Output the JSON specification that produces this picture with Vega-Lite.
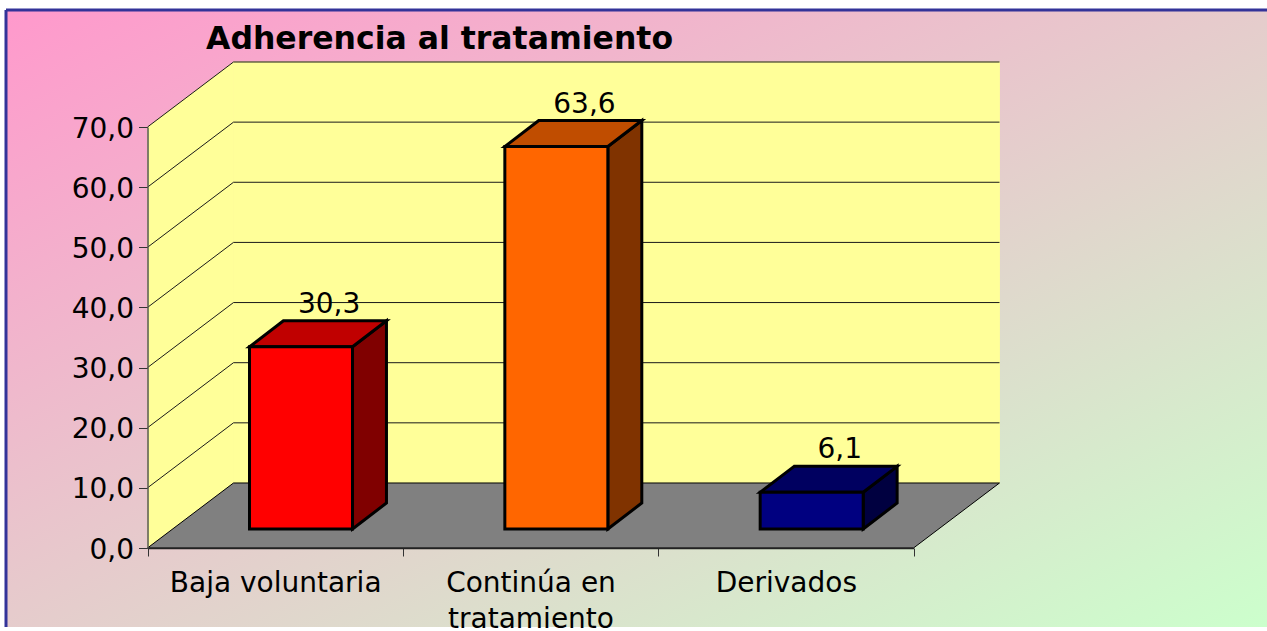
{
"$schema":"https://vega.github.io/schema/vega-lite/v6.json",
"width":1261,"height":617,
"autosize":"none",
"padding":{"left":6,"top":10,"right":0,"bottom":4},
"background":"white",
"config":{"font":"DejaVu Sans","view":{"fill":{"gradient":"linear","x1":0,"y1":0,"x2":1,"y2":1,"stops":[{"offset":0,"color":"#FF99CC"},{"offset":1,"color":"#CCFFCC"}]},"stroke":"#333399","strokeWidth":3,"strokeDash":[1261,1878,617,0]}},
"title":{"text":"Adherencia al tratamiento","anchor":"start","frame":"group","dx":200,"offset":-45,"font":"DejaVu Sans","fontSize":31.5,"fontWeight":"bold","color":"black"},
"datasets":{
"bars":[{"category":"Baja voluntaria","value":30.3},{"category":"Continúa en tratamiento","value":63.6},{"category":"Derivados","value":6.1}],
"ticks":[{"tick":10},{"tick":20},{"tick":30},{"tick":40},{"tick":50},{"tick":60},{"tick":70}],
"depth":[{"d":0},{"d":1}]
},
"resolve":{"scale":{"x":"independent","y":"independent","color":"independent"},"axis":{"x":"independent","y":"independent"}},
"layer":[
{"data":{"name":"depth"},"mark":{"type":"rect","fill":"#FFFF99","stroke":"#FFFF99","strokeWidth":0.5},
 "encoding":{"x":{"datum":0.3368,"type":"quantitative","scale":{"domain":[0,3],"range":[141.5,907.5]},"axis":null},"x2":{"datum":3.3368},
 "y":{"datum":10.81,"type":"quantitative","scale":{"domain":[0,70],"range":[538,117]},"axis":null},"y2":{"datum":80.81}}},
{"data":{"name":"depth"},"transform":[{"calculate":"datum.d*0.3368","as":"wx"},{"calculate":"datum.d*10.81","as":"wy"},{"calculate":"70+datum.d*10.81","as":"wy2"}],
 "mark":{"type":"area","orient":"vertical","fill":"#FFFF99","stroke":"#FFFF99","strokeWidth":0.5},
 "encoding":{"x":{"field":"wx","type":"quantitative","scale":{"domain":[0,3],"range":[141.5,907.5]},"axis":null},
 "y":{"field":"wy","type":"quantitative","scale":{"domain":[0,70],"range":[538,117]},"axis":null},"y2":{"field":"wy2"}}},
{"data":{"name":"ticks"},"transform":[{"calculate":"[0,0.3368,3.3368]","as":"gx"},{"calculate":"[datum.tick,datum.tick+10.81,datum.tick+10.81]","as":"gy"},{"flatten":["gx","gy"]}],
 "mark":{"type":"line","color":"#1a1a1a","strokeWidth":1},
 "encoding":{"x":{"field":"gx","type":"quantitative","scale":{"domain":[0,3],"range":[141.5,907.5]},"axis":null},
 "y":{"field":"gy","type":"quantitative","scale":{"domain":[0,70],"range":[538,117]},"axis":null},"detail":{"field":"tick"}}},
{"data":{"name":"depth"},"transform":[{"calculate":"datum.d*0.3368","as":"fx"},{"calculate":"3+datum.d*0.3368","as":"fx2"},{"calculate":"datum.d*10.81","as":"fy"}],
 "mark":{"type":"area","orient":"horizontal","fill":"#808080","stroke":"black","strokeWidth":1},
 "encoding":{"x":{"field":"fx","type":"quantitative","scale":{"domain":[0,3],"range":[141.5,907.5]},"axis":null},"x2":{"field":"fx2"},
 "y":{"field":"fy","type":"quantitative","scale":{"domain":[0,70],"range":[538,117]},"axis":null}}},
{"data":{"name":"bars"},"transform":[{"window":[{"op":"row_number","as":"n"}]},{"calculate":"[0,1]","as":"d"},{"flatten":["d"]},
 {"calculate":"datum.n-1+0.3995+0.4034+0.133*datum.d","as":"sx"},{"calculate":"3.16+4.32*datum.d","as":"sy"},{"calculate":"3.16+datum.value+4.32*datum.d","as":"sy2"}],
 "mark":{"type":"area","orient":"vertical","stroke":"black","strokeWidth":3},
 "encoding":{"x":{"field":"sx","type":"quantitative","scale":{"domain":[0,3],"range":[141.5,907.5]},"axis":null},
 "y":{"field":"sy","type":"quantitative","scale":{"domain":[0,70],"range":[538,117]},"axis":null},"y2":{"field":"sy2"},
 "color":{"field":"category","type":"nominal","legend":null,"scale":{"domain":["Baja voluntaria","Continúa en tratamiento","Derivados"],"range":["#800000","#803300","#000040"]}}}},
{"data":{"name":"bars"},"transform":[{"window":[{"op":"row_number","as":"n"}]},{"calculate":"[0,1]","as":"d"},{"flatten":["d"]},
 {"calculate":"datum.n-1+0.3995+0.133*datum.d","as":"tx"},{"calculate":"datum.n-1+0.3995+0.4034+0.133*datum.d","as":"tx2"},{"calculate":"3.16+datum.value+4.32*datum.d","as":"ty"}],
 "mark":{"type":"area","orient":"horizontal","stroke":"black","strokeWidth":3},
 "encoding":{"x":{"field":"tx","type":"quantitative","scale":{"domain":[0,3],"range":[141.5,907.5]},"axis":null},"x2":{"field":"tx2"},
 "y":{"field":"ty","type":"quantitative","scale":{"domain":[0,70],"range":[538,117]},"axis":null},
 "color":{"field":"category","type":"nominal","legend":null,"scale":{"domain":["Baja voluntaria","Continúa en tratamiento","Derivados"],"range":["#C00000","#C04D00","#000060"]}}}},
{"data":{"name":"bars"},"transform":[{"window":[{"op":"row_number","as":"n"}]},
 {"calculate":"datum.n-1+0.3995","as":"bx"},{"calculate":"datum.n-1+0.3995+0.4034","as":"bx2"},{"calculate":"3.16","as":"by"},{"calculate":"3.16+datum.value","as":"by2"}],
 "mark":{"type":"rect","stroke":"black","strokeWidth":3},
 "encoding":{"x":{"field":"bx","type":"quantitative","scale":{"domain":[0,3],"range":[141.5,907.5]},"axis":null},"x2":{"field":"bx2"},
 "y":{"field":"by","type":"quantitative","scale":{"domain":[0,70],"range":[538,117]},"axis":null},"y2":{"field":"by2"},
 "color":{"field":"category","type":"nominal","legend":null,"scale":{"domain":["Baja voluntaria","Continúa en tratamiento","Derivados"],"range":["#FF0000","#FF6600","#000080"]}}}},
{"data":{"name":"bars"},"transform":[{"window":[{"op":"row_number","as":"n"}]},
 {"calculate":"datum.n-1+0.3995+0.2017+0.11","as":"lx"},{"calculate":"3.16+datum.value+4.32","as":"ly"},{"calculate":"replace(format(datum.value,'.1f'),'.',',')","as":"txt"}],
 "mark":{"type":"text","fontSize":28,"baseline":"middle","align":"center","dy":-16,"color":"black"},
 "encoding":{"x":{"field":"lx","type":"quantitative","scale":{"domain":[0,3],"range":[141.5,907.5]},"axis":null},
 "y":{"field":"ly","type":"quantitative","scale":{"domain":[0,70],"range":[538,117]},"axis":null},"text":{"field":"txt"}}},
{"data":{"name":"bars"},"mark":{"type":"point","opacity":0},
 "encoding":{"x":{"field":"category","type":"nominal","sort":null,"scale":{"type":"band","paddingInner":0,"paddingOuter":0,"range":[141.5,907.5]},
   "axis":{"title":null,"orient":"bottom","offset":-79,"zindex":1,"labelAngle":0,"tickBand":"extent","tickSize":8,"tickColor":"#333333","domainColor":"#222222","domainWidth":1.5,"labelFontSize":28,"labelColor":"black","labelPadding":13,"labelLineHeight":36,"labelLimit":400,"labelExpr":"datum.label=='Continúa en tratamiento'?['Continúa en','tratamiento']:datum.label"}},
 "y":{"field":"value","type":"quantitative","scale":{"domain":[0,70],"range":[538,117]},
   "axis":{"title":null,"orient":"left","offset":-141.5,"zindex":1,"values":[0,10,20,30,40,50,60,70],"grid":false,"tickSize":9,"tickColor":"#333333","domainColor":"#555555","domainWidth":1.5,"labelFontSize":28,"labelColor":"black","labelPadding":5,"labelOffset":2,"labelExpr":"replace(format(datum.value,'.1f'),'.',',')"}}}}
]
}
